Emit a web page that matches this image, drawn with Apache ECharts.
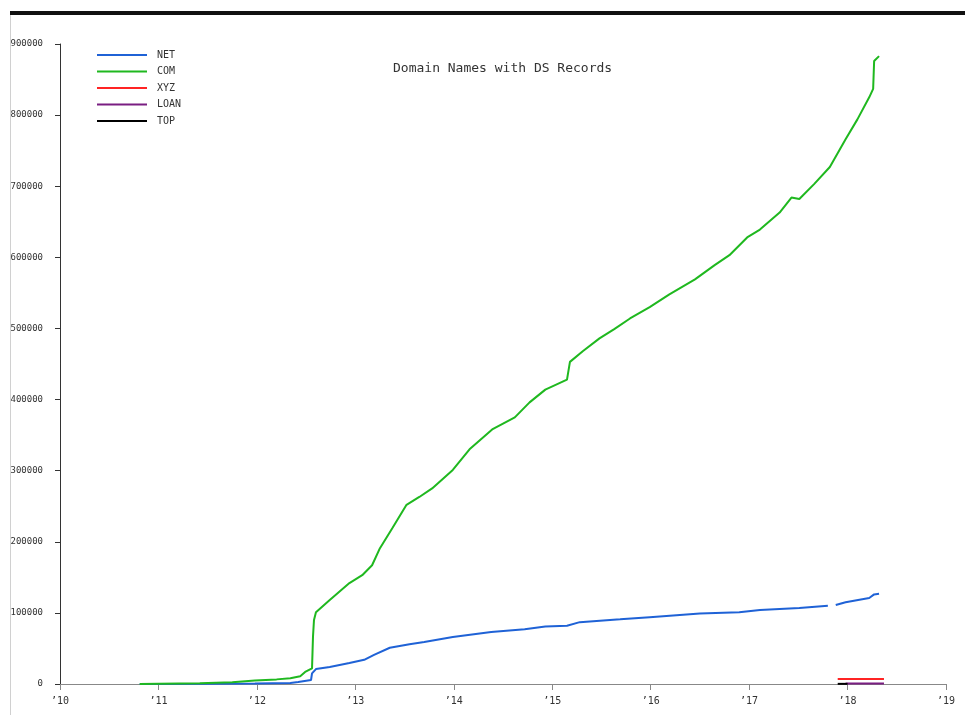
<!DOCTYPE html>
<html><head><meta charset="utf-8">
<script src="https://cdn.jsdelivr.net/npm/echarts@6/dist/echarts.min.js"></script>
<style>html,body{margin:0;padding:0;background:#fff}#c{width:965px;height:715px}</style>
</head><body><div id="c"></div>
<script>
// Decimal years and record counts
const comYears = [2010.81, 2011.0, 2011.42, 2011.75, 2011.98, 2012.2, 2012.34, 2012.44, 2012.49, 2012.56, 2012.57, 2012.58, 2012.60, 2012.74, 2012.94, 2013.07, 2013.17, 2013.25, 2013.38, 2013.52, 2013.65, 2013.78, 2013.99, 2014.16, 2014.39, 2014.62, 2014.77, 2014.93, 2015.15, 2015.18, 2015.31, 2015.48, 2015.63, 2015.79, 2015.99, 2016.19, 2016.45, 2016.65, 2016.80, 2016.98, 2017.11, 2017.31, 2017.43, 2017.51, 2017.66, 2017.82, 2017.98, 2018.10, 2018.22, 2018.26, 2018.27, 2018.32];
const comValues = [0, 300, 1000, 2500, 5000, 6500, 8000, 11000, 17000, 22000, 67000, 90000, 101000, 118000, 142000, 153000, 167000, 191000, 220000, 252000, 263000, 275000, 301000, 330000, 358000, 375000, 396000, 414000, 428000, 453000, 468000, 486000, 499000, 514000, 530000, 548000, 569000, 589000, 603000, 628000, 639000, 663000, 684000, 682000, 703000, 727000, 766000, 794000, 825000, 837000, 876000, 883000];

const netYears = [2010.81, 2011.5, 2011.98, 2012.34, 2012.42, 2012.55, 2012.56, 2012.60, 2012.74, 2012.94, 2013.09, 2013.19, 2013.35, 2013.55, 2013.70, 2013.99, 2014.38, 2014.72, 2014.93, 2015.15, 2015.28, 2015.69, 2015.99, 2016.50, 2016.90, 2017.11, 2017.51, 2017.80, 2017.85, 2017.88, 2017.98, 2018.22, 2018.27, 2018.32];
const netValues = [0, 200, 800, 1500, 2800, 5600, 15000, 21000, 24000, 29500, 34000, 41000, 51000, 56000, 59000, 66000, 73000, 77000, 81000, 82000, 87000, 91000, 94000, 99000, 101000, 104000, 107000, 110000, null, 111000, 115000, 121000, 126000, 127000];

const xyzYears = [2017.90, 2018.37];
const xyzValues = [7000, 7000];
const loanYears = [2017.98, 2018.37];
const loanValues = [700, 700];
const topYears = [2017.90, 2018.0];
const topValues = [200, 200];

const seriesNames = ['NET', 'COM', 'XYZ', 'LOAN', 'TOP'];
const seriesColors = ['#1f62d6', '#1fb81f', '#ff2424', '#7a1e82', '#000000'];
const yTicks = [0, 100000, 200000, 300000, 400000, 500000, 600000, 700000, 800000, 900000];

const zip = (xs, ys) => xs.map((x, i) => [x, ys[i]]);
const seriesData = [zip(netYears, netValues), zip(comYears, comValues), zip(xyzYears, xyzValues), zip(loanYears, loanValues), zip(topYears, topValues)];

const mono = 'DejaVu Sans Mono';
const chart = echarts.init(document.getElementById('c'), null, {renderer: 'canvas'});
chart.setOption({
  animation: false,
  backgroundColor: '#fff',
  title: {
    text: 'Domain Names with DS Records', left: 393, top: 62, padding: 0,
    textStyle: {fontFamily: mono, fontSize: 13, fontWeight: 'normal', color: '#333'}
  },
  legend: {
    orient: 'vertical', left: 97, top: 50, padding: 0, itemWidth: 50, itemHeight: 2, itemGap: 6.5, icon: 'rect',
    textStyle: {fontFamily: mono, fontSize: 10, color: '#333', padding: [0,0,0,5]},
    data: seriesNames
  },
  grid: {left: 60, right: 19, top: 44, bottom: 31, containLabel: false},
  xAxis: {
    type: 'value', min: 2010, max: 2019, interval: 1,
    axisLine: {lineStyle: {color: '#888', width: 1}},
    axisTick: {length: 6, lineStyle: {color: '#888'}},
    splitLine: {show: false},
    axisLabel: {fontFamily: mono, fontSize: 10, color: '#333', margin: 12,
      formatter: v => '\u2019' + String(v).slice(2)}
  },
  yAxis: {
    type: 'value', min: 0, max: 900000, interval: 100000,
    axisLine: {show: true, lineStyle: {color: '#333', width: 1}},
    axisTick: {show: true, length: 5, lineStyle: {color: '#333'}},
    splitLine: {show: false},
    axisLabel: {fontFamily: mono, fontSize: 9, color: '#333', margin: 17,
      formatter: v => yTicks.includes(v) ? String(v) : ''}
  },
  graphic: [
    {type: 'rect', shape: {x: 10, y: 11, width: 955, height: 4}, style: {fill: '#111'}, z: 100},
    {type: 'rect', shape: {x: 0, y: 0, width: 10, height: 715}, style: {fill: '#fff'}, z: 100},
    {type: 'rect', shape: {x: 10, y: 15, width: 1, height: 700}, style: {fill: '#d0d0d0'}, z: 100}
  ],
  series: seriesNames.map((n, i) => ({
    name: n, type: 'line', data: seriesData[i], showSymbol: false, symbol: 'none',
    connectNulls: false, color: seriesColors[i],
    lineStyle: {width: 2, color: seriesColors[i]}
  }))
});
</script></body></html>
